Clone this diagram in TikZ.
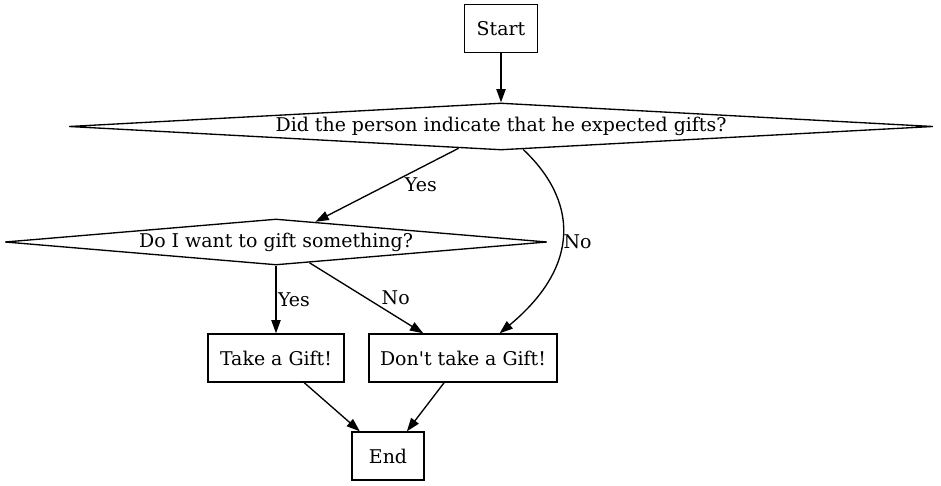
\documentclass[tikz,border=0pt]{standalone}
\usepackage{fontspec}
\setmainfont{DejaVu Serif}
\usetikzlibrary{shapes.geometric,arrows.meta}

\tikzset{
  box/.style={draw, rectangle, minimum height=36pt, inner sep=2pt},
  decision/.style={draw, diamond, inner sep=0pt},
  edgelabel/.style={inner sep=1pt}
}

\begin{document}
\begin{tikzpicture}[x=0.75pt, y=-0.75pt, line width=1pt, >={Triangle[length=10pt, width=7pt]},
    every node/.style={font=\fontsize{14.2}{17}\selectfont}]
                  \useasboundingbox (0,0) rectangle (941,485);
                  % NODES
                  \node[box, minimum width=54.75pt] (start) at (501,28.5) {Start};
                  \node[decision, aspect=18.4, minimum width=648pt, minimum height=35.25pt] (gifts) at (501,126.5) {Did the person indicate that he expected gifts?};
                  \node[decision, aspect=11.8, minimum width=406.5pt, minimum height=34.5pt] (want) at (276,242) {Do I want to gift something?};
                  \node[box, minimum width=102pt] (take) at (276,358) {Take a Gift!};
                  \node[box, minimum width=141pt] (donttake) at (463,358) {Don\textquotesingle t take a Gift!};
                  \node[box, minimum width=54pt] (end) at (388,456) {End};

                  % LINES:
                  \draw[->] (start) -- (gifts);
                  \draw[->] (gifts) -- (want) node[edgelabel, midway, anchor=west, xshift=12pt]{Yes};
                  \draw[->] (gifts.-46) .. controls (577,200) and (582,265) .. (donttake.34) node[edgelabel, pos=0.54, anchor=west]{No};
                  \draw[->] (want) -- (take) node[edgelabel, midway, anchor=west]{Yes};
                  \draw[->] (want) -- (donttake) node[edgelabel, midway, anchor=west, xshift=10pt]{No};
                  \draw[->] (take) -- (end);
                  \draw[->] (donttake) -- (end);
\end{tikzpicture}
\end{document}
